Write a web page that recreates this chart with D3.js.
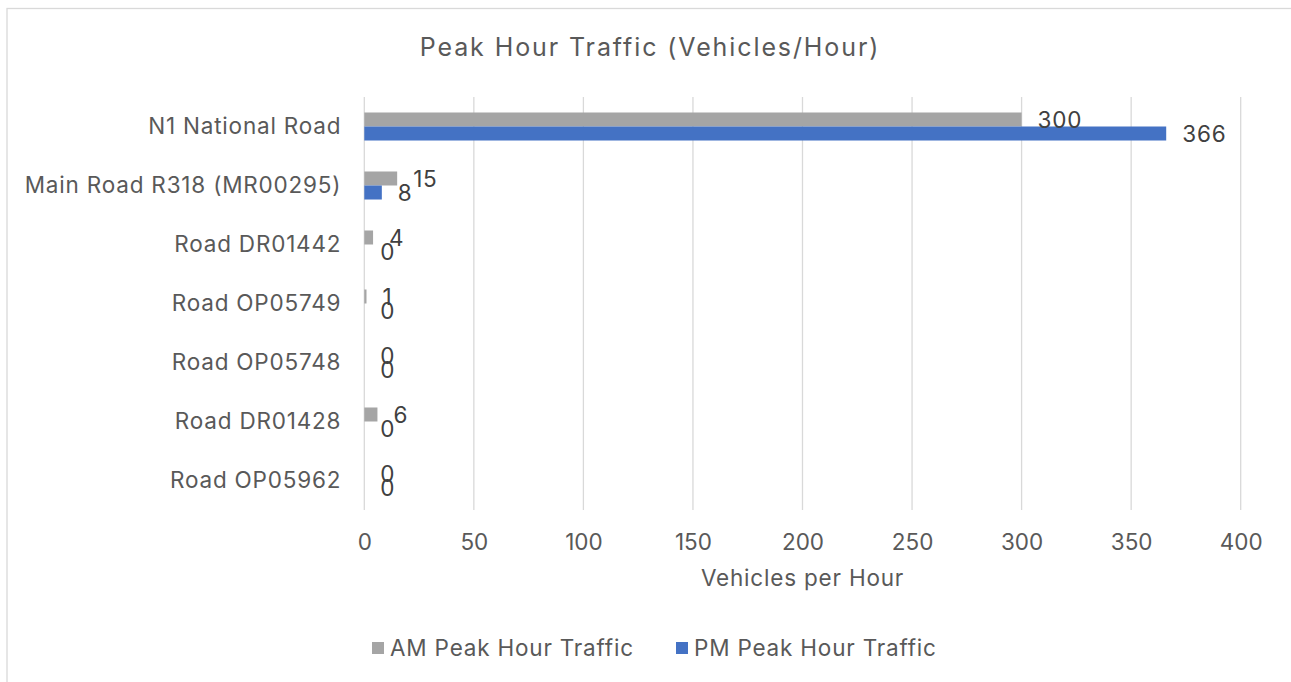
<!DOCTYPE html>
<html>
<head>
<meta charset="utf-8">
<script src="https://cdn.jsdelivr.net/npm/d3@7"></script>
<style>
	body { margin: 0; background: #fff; }
	svg { display: block; font-family: Inter, 'Open Sans', sans-serif; }
</style>
</head>
<body>
<svg id="traffic-chart" width="1291" height="682"></svg>
<script>
var roads = [
	'N1 National Road',
	'Main Road R318 (MR00295)',
	'Road DR01442',
	'Road OP05749',
	'Road OP05748',
	'Road DR01428',
	'Road OP05962'
];
var amTraffic = [300, 15, 4, 1, 0, 6, 0];
var pmTraffic = [366, 8, 0, 0, 0, 0, 0];
var seriesNames = ['AM Peak Hour Traffic', 'PM Peak Hour Traffic'];
var xTicks = [0, 50, 100, 150, 200, 250, 300, 350, 400];

function createBarChart(){
	var margin = { left : 364.3, right : 50.3, top : 97, bottom : 172 };
	var colors = ['#A5A5A5', '#4472C4'];
	var textColor = '#595959';
	var fontFamily = "Inter, 'Open Sans', sans-serif";
	var labelSize = '22.5px';
	var spacing = '0.8px';

	var svg = d3.select('#traffic-chart'),
		svgWidth = +svg.attr('width'),
		svgHeight = +svg.attr('height'),
		width = svgWidth - margin.left - margin.right,
		height = svgHeight - margin.top - margin.bottom;

	// chart frame (cropped at right/bottom like the original)
	svg.append('rect')
		.attr('x', 7).attr('y', 8.5)
		.attr('width', 1300).attr('height', 700)
		.attr('fill', '#fff')
		.attr('stroke', '#D9D9D9')
		.attr('stroke-width', 1.3);

	svg.append('text')
		.text('Peak Hour Traffic (Vehicles/Hour)')
		.attr('x', 650)
		.attr('y', 47)
		.attr('dy', '0.35em')
		.attr('text-anchor', 'middle')
		.attr('fill', textColor)
		.style('font-size', '25px')
		.style('letter-spacing', '1.9px');

	var x = d3.scaleLinear()
		.domain([0, 400])
		.range([0, width]);

	var y = d3.scaleBand()
		.domain(roads)
		.range([0, height])
		.paddingInner(0.525)
		.paddingOuter(0.2625);

	var sub = d3.scaleBand()
		.domain([0, 1])
		.range([0, y.bandwidth()]);

	var mainG = svg.append('g')
		.attr('transform', `translate(${margin.left},${margin.top})`);

	//gridlines
	mainG.append('g')
		.attr('class', 'grid')
		.selectAll('line')
		.data(xTicks)
		.enter()
		.append('line')
		.attr('x1', (d)=>x(d))
		.attr('x2', (d)=>x(d))
		.attr('y1', 0)
		.attr('y2', height)
		.attr('stroke', '#D9D9D9')
		.attr('stroke-width', 1.3);

	//x axis labels
	var xAxis = mainG.append('g')
		.attr('transform', `translate(0,${height})`)
		.call(d3.axisBottom(x).tickValues(xTicks).tickSize(0).tickPadding(32));
	xAxis.select('.domain').remove();
	xAxis.selectAll('text')
		.attr('dy', '0.35em')
		.attr('fill', textColor)
		.style('font-size', labelSize)
		.style('font-family', fontFamily);

	//y axis labels
	var yAxis = mainG.append('g')
		.call(d3.axisLeft(y).tickSize(0).tickPadding(23));
	yAxis.select('.domain').remove();
	yAxis.selectAll('text')
		.attr('fill', textColor)
		.style('font-size', labelSize)
		.style('letter-spacing', spacing)
		.style('font-family', fontFamily);

	//axis title
	mainG.append('text')
		.text('Vehicles per Hour')
		.attr('x', width / 2)
		.attr('y', height + 68)
		.attr('dy', '0.35em')
		.attr('text-anchor', 'middle')
		.attr('fill', textColor)
		.style('font-size', labelSize)
		.style('letter-spacing', spacing);

	//bars
	var rows = roads.map(function(r, i){
		return { road : r, values : [amTraffic[i], pmTraffic[i]] };
	});

	var groups = mainG.append('g')
		.attr('class', 'bars')
		.selectAll('g')
		.data(rows)
		.enter()
		.append('g')
		.attr('transform', (d)=>`translate(0,${y(d.road)})`);

	groups.selectAll('rect')
		.data((d)=>d.values)
		.enter()
		.append('rect')
		.attr('x', 0)
		.attr('y', (d,i)=>sub(i))
		.attr('width', (d)=>x(d))
		.attr('height', sub.bandwidth())
		.attr('fill', (d,i)=>colors[i]);

	//value labels
	groups.selectAll('text')
		.data((d)=>d.values)
		.enter()
		.append('text')
		.text((d)=>d)
		.attr('x', (d)=>x(d) + 16)
		.attr('y', (d,i)=>sub(i) + sub.bandwidth() / 2 + 1)
		.attr('dy', '0.35em')
		.attr('fill', '#404040')
		.style('font-size', labelSize)
		.style('letter-spacing', spacing);

	//legend
	var legend = svg.append('g')
		.attr('class', 'legend')
		.selectAll('g')
		.data(seriesNames)
		.enter()
		.append('g')
		.attr('transform', (d,i)=>`translate(${i === 0 ? 372 : 676},648)`);

	legend.append('rect')
		.attr('x', 0)
		.attr('y', -6)
		.attr('width', 12)
		.attr('height', 12)
		.attr('fill', (d,i)=>colors[i]);

	legend.append('text')
		.text((d)=>d)
		.attr('x', 18)
		.attr('y', 0)
		.attr('dy', '0.35em')
		.attr('fill', textColor)
		.style('font-size', labelSize)
		.style('letter-spacing', spacing);
}

createBarChart();
</script>
</body>
</html>
